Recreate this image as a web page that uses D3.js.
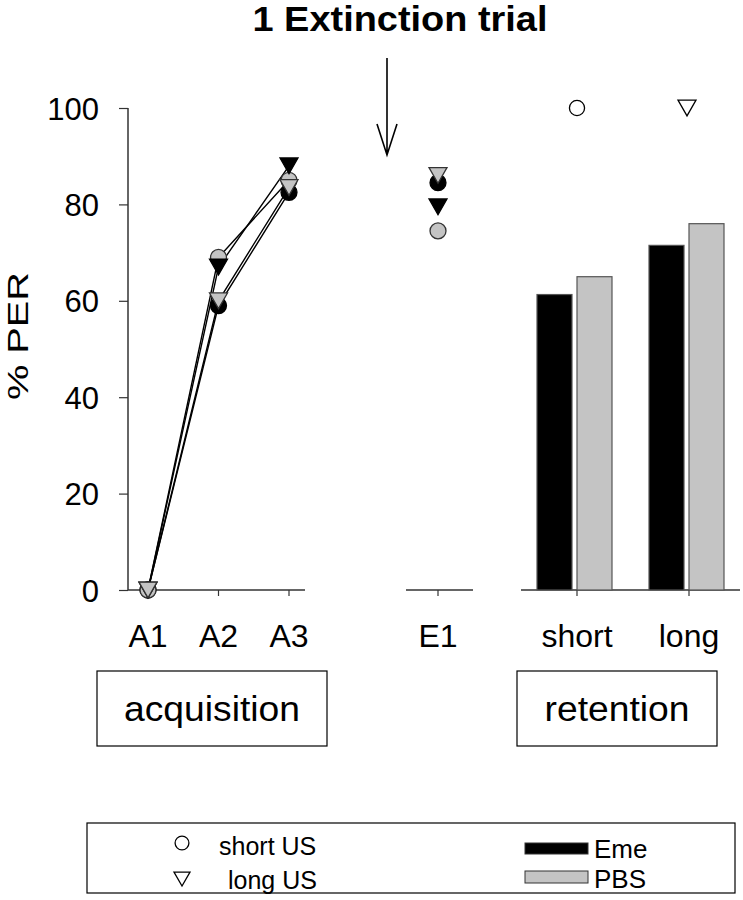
<!DOCTYPE html>
<meta charset="utf-8">
<style>
    body { margin: 0; background: #fff; }
    svg text { font-family: "Liberation Sans", Arial, sans-serif; fill: #000; }
</style>
<body>
<script src="https://cdn.jsdelivr.net/npm/d3@7"></script>
<script>

// acquisition trials
var acqLabels = ["A1", "A2", "A3"];
var shortEme = [0, 59, 82.5];
var shortPBS = [0, 69, 85];
var longEme  = [0, 67, 88];
var longPBS  = [0, 60, 83.5];

// extinction trial E1: shortEme, shortPBS, longEme, longPBS
var extLabels = ["E1"];
var extValues = [84.5, 74.5, 79.5, 86];

// retention
var retLabels = ["short", "long"];
var retEme = [61.3, 71.5];
var retPBS = [65, 76];
var retRef = [100, 100];   // open markers above bars

var yTicks = [0, 20, 40, 60, 80, 100];

var width = 743, height = 900;
var svg = d3.select("body").append("svg")
    .attr("width", width)
    .attr("height", height);

var y = d3.scaleLinear().domain([0, 100]).range([590, 108]);
var xA = d3.scalePoint().domain(acqLabels).range([148, 289]);
var xE = d3.scalePoint().domain(extLabels).range([438, 438]);
var xR = d3.scaleBand().domain(retLabels).range([521, 745]);
var xSub = d3.scaleBand().domain(["Eme", "PBS"]).range([-40, 35]).paddingInner(0.125);

var grey = "#c4c4c4";

// title + arrow
svg.append("text")
    .attr("x", 400).attr("y", 31)
    .attr("text-anchor", "middle")
    .attr("textLength", 295).attr("lengthAdjust", "spacingAndGlyphs")
    .style("font-size", "35px").style("font-weight", "bold")
    .text("1 Extinction trial");

svg.append("path")
    .attr("d", "M387,58V155M377,124L387,155L397,124")
    .attr("fill", "none").attr("stroke", "#000").attr("stroke-width", 1.6);

// y axis
var yAxis = svg.append("g")
    .attr("transform", "translate(128,0)")
    .call(d3.axisLeft(y).tickValues(yTicks).tickSize(9).tickPadding(20));
yAxis.select(".domain").attr("stroke", "#333").attr("stroke-width", 1.5).attr("d", "M0,108V590");
yAxis.selectAll(".tick line").attr("stroke", "#333").attr("stroke-width", 1.2);
yAxis.selectAll("text").style("font-size", "31px").attr("dy", "0.36em");

svg.append("text")
    .attr("transform", "translate(28,336) rotate(-90)")
    .attr("text-anchor", "middle")
    .attr("textLength", 128).attr("lengthAdjust", "spacingAndGlyphs")
    .style("font-size", "30px")
    .text("% PER");

// x axes (three segments)
function xAxisSeg(scale, x0, x1) {
    var cx = function(d) { return scale(d) + (scale.bandwidth ? scale.bandwidth() / 2 : 0); };
    var g = svg.append("g").attr("transform", "translate(0,590)");
    g.append("line").attr("x1", x0).attr("x2", x1)
        .attr("stroke", "#333").attr("stroke-width", 1.5);
    g.selectAll("line.tk").data(scale.domain()).enter().append("line")
        .attr("class", "tk")
        .attr("x1", cx).attr("x2", cx)
        .attr("y1", 0).attr("y2", 6)
        .attr("stroke", "#333").attr("stroke-width", 1.2);
    g.selectAll("text").data(scale.domain()).enter().append("text")
        .attr("x", cx)
        .attr("y", 57)
        .attr("text-anchor", "middle")
        .style("font-size", "32px")
        .text(function(d) { return d; });
}
xAxisSeg(xA, 128, 305);
xAxisSeg(xE, 406, 473);
xAxisSeg(xR, 521, 740);

// bars
var retRows = retLabels.map(function(d, i) { return {cat: d, Eme: retEme[i], PBS: retPBS[i]}; });
var barG = svg.append("g");
retRows.forEach(function(r) {
    var cx = xR(r.cat) + xR.bandwidth() / 2;
    ["Eme", "PBS"].forEach(function(k) {
        barG.append("rect")
            .attr("x", cx + xSub(k))
            .attr("y", y(r[k]))
            .attr("width", xSub.bandwidth())
            .attr("height", y(0) - y(r[k]))
            .attr("fill", k === "Eme" ? "#000" : grey)
            .attr("stroke", "#555").attr("stroke-width", 1.2);
    });
});

// symbols
function triPath(s) {
    var h = s * 0.87;
    return "M" + (-s / 2) + "," + (-h / 2) + "L" + (s / 2) + "," + (-h / 2) + "L0," + (h / 2) + "Z";
}

function marker(g, shape, fill, x, yy, sz) {
    var p = g.append("path")
        .attr("transform", "translate(" + x + "," + yy + ")")
        .attr("fill", fill)
        .attr("stroke", fill === "#000" ? "#000" : "#333")
        .attr("stroke-width", 1.3);
    if (shape === "circle") p.attr("d", d3.symbol().type(d3.symbolCircle).size(sz || 200)());
    else p.attr("d", triPath(sz || 18));
    return p;
}

var series = [
    {vals: shortEme, ext: extValues[0], shape: "circle", fill: "#000"},
    {vals: shortPBS, ext: extValues[1], shape: "circle", fill: grey},
    {vals: longEme,  ext: extValues[2], shape: "tri", fill: "#000"},
    {vals: longPBS,  ext: extValues[3], shape: "tri", fill: grey}
];

var line = d3.line()
    .x(function(d, i) { return xA(acqLabels[i]); })
    .y(function(d) { return y(d); });

var lineG = svg.append("g");
series.forEach(function(s) {
    lineG.append("path").attr("d", line(s.vals))
        .attr("fill", "none").attr("stroke", "#000").attr("stroke-width", 1.4);
});

var markG = svg.append("g");
series.forEach(function(s) {
    s.vals.forEach(function(v, i) {
        marker(markG, s.shape, s.fill, xA(acqLabels[i]), y(v));
    });
    marker(markG, s.shape, s.fill, xE("E1"), y(s.ext));
});

// open reference markers above retention bars
marker(markG, "circle", "#fff", xR("short") + xR.bandwidth() / 2, y(retRef[0]), 180)
    .attr("stroke", "#000");
marker(markG, "tri", "#fff", xR("long") + xR.bandwidth() / 2 - 2, y(retRef[1]), 18)
    .attr("stroke", "#000");

// phase boxes
function labelBox(x, yy, w, h, txt, tl) {
    svg.append("rect").attr("x", x).attr("y", yy).attr("width", w).attr("height", h)
        .attr("fill", "none").attr("stroke", "#000").attr("stroke-width", 1.2);
    svg.append("text").attr("x", x + w / 2).attr("y", yy + h / 2 + 12)
        .attr("text-anchor", "middle")
        .attr("textLength", tl).attr("lengthAdjust", "spacingAndGlyphs")
        .style("font-size", "35px").text(txt);
}
labelBox(97, 671, 230, 75, "acquisition", 176);
labelBox(517, 671, 200, 75, "retention", 145);

// legend
var leg = svg.append("g");
leg.append("rect").attr("x", 87).attr("y", 823).attr("width", 648).attr("height", 70)
    .attr("fill", "none").attr("stroke", "#000").attr("stroke-width", 1.2);
marker(leg, "circle", "#fff", 182, 843, 150).attr("stroke", "#000");
marker(leg, "tri", "#fff", 182, 879, 16).attr("stroke", "#000");
leg.append("text").attr("x", 219).attr("y", 855).style("font-size", "25px").text("short US");
leg.append("text").attr("x", 228).attr("y", 889).style("font-size", "25px").text("long US");
leg.append("rect").attr("x", 525).attr("y", 843).attr("width", 63).attr("height", 11)
    .attr("fill", "#000").attr("stroke", "#333");
leg.append("rect").attr("x", 525).attr("y", 871).attr("width", 63).attr("height", 12)
    .attr("fill", grey).attr("stroke", "#333");
leg.append("text").attr("x", 594).attr("y", 858).style("font-size", "26px").text("Eme");
leg.append("text").attr("x", 594).attr("y", 888).style("font-size", "26px").text("PBS");

</script>
</body>
